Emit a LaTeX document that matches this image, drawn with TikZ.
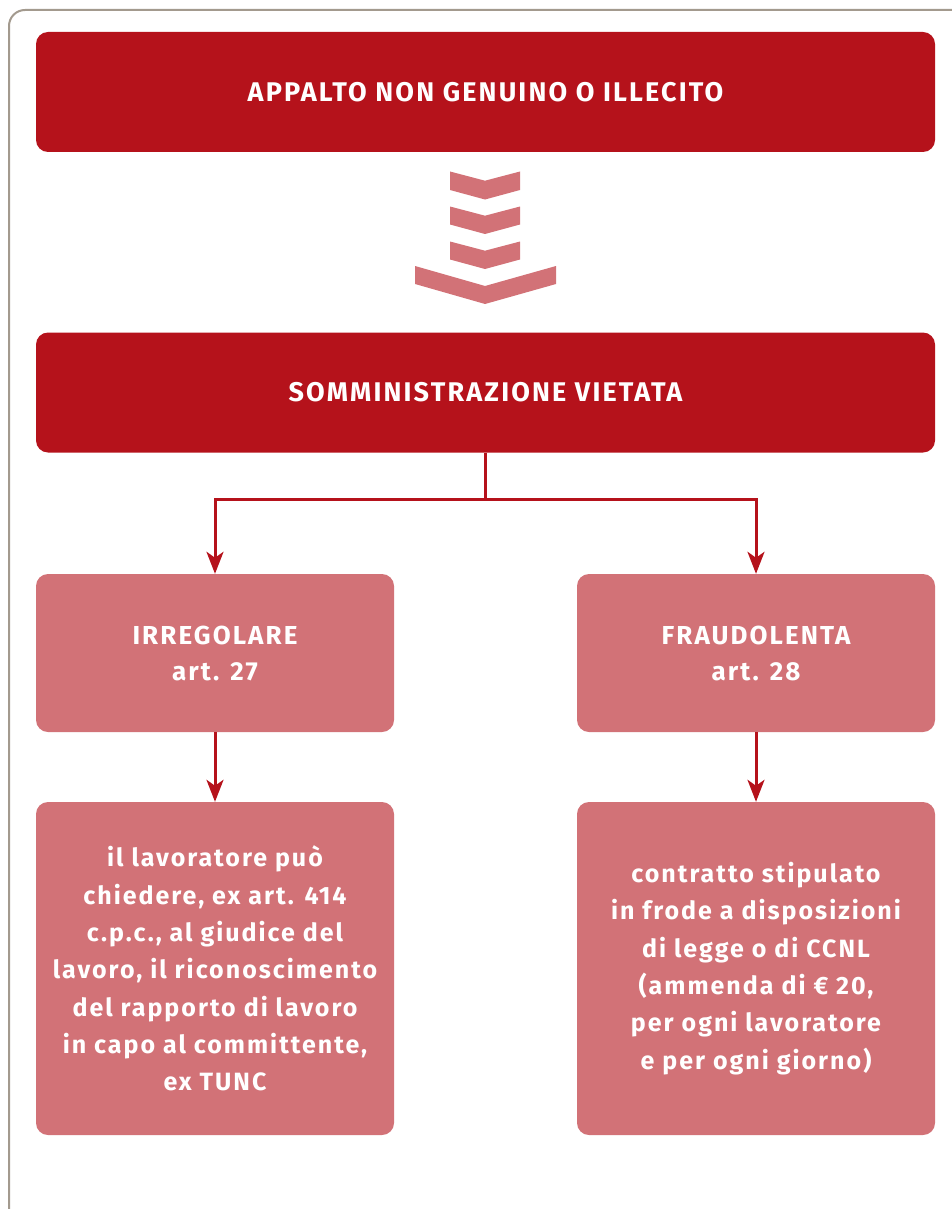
\documentclass[tikz,border=0pt]{standalone}
\usepackage{fontspec}
\setmainfont[LetterSpace=8]{Fira Sans}
\usetikzlibrary{arrows.meta}
\definecolor{dred}{RGB}{181,18,27}
\definecolor{pinkb}{RGB}{210,114,119}
\definecolor{framec}{RGB}{163,154,142}
\tikzset{
  redbox/.style={fill=dred,rounded corners=12pt,minimum width=899pt,minimum height=120pt,
    text=white,font=\fontsize{27pt}{30pt}\selectfont\bfseries,inner sep=0pt},
  pinkbox/.style={fill=pinkb,rounded corners=12pt,minimum width=358pt,
    text=white,align=center,inner sep=0pt},
  headtxt/.style={font=\fontsize{26pt}{36pt}\selectfont\bfseries},
  bodytxt/.style={font=\fontsize{25pt}{37.3pt}\selectfont\bfseries},
  conn/.style={draw=dred,line width=3pt},
  arr/.style={conn,-{Stealth[length=22pt,width=17pt,inset=6pt]}},
  chev/.style={fill=pinkb}
}
\begin{document}
\begin{tikzpicture}[x=1pt,y=-1pt]
\useasboundingbox (0,0) rectangle (951,1209);
% frame
\draw[framec,line width=2pt,rounded corners=16pt] (9,1209) -- (9,10) -- (960,10);
% top boxes
\node[redbox] (app) at (485.5,92) {\raisebox{-1pt}{APPALTO NON GENUINO O ILLECITO}};
\node[redbox] (som) at (485.5,392.5) {\raisebox{-1pt}{SOMMINISTRAZIONE VIETATA}};
% chevrons
\fill[chev] (450,171.5) -- (485,180.7) -- (520,171.5) -- (520,190) -- (485,199.5) -- (450,190) -- cycle;
\fill[chev] (450,206.5) -- (485,215.7) -- (520,206.5) -- (520,224.5) -- (485,234) -- (450,224.5) -- cycle;
\fill[chev] (450,241.5) -- (485,250.7) -- (520,241.5) -- (520,259.5) -- (485,269) -- (450,259.5) -- cycle;
\fill[chev] (415,266) -- (485,286) -- (556,266) -- (556,284) -- (485,304) -- (415,284) -- cycle;
% second level
\node[pinkbox,headtxt,minimum height=158pt] (irr) at (215,653) {IRREGOLARE\\art. 27};
\node[pinkbox,headtxt,minimum height=158pt] (fra) at (756,653) {FRAUDOLENTA\\art. 28};
% third level
\node[pinkbox,bodytxt,minimum height=333pt] (irrt) at (215,968.5) {il lavoratore può\\chiedere, ex art. 414\\c.p.c., al giudice del\\lavoro, il riconoscimento\\del rapporto di lavoro\\in capo al committente,\\ex TUNC};
\node[pinkbox,bodytxt,minimum height=333pt] (frat) at (756,968.5) {contratto stipulato\\in frode a disposizioni\\di legge o di CCNL\\(ammenda di € 20,\\per ogni lavoratore\\e per ogni giorno)};
% connectors
\path (som.south) ++(0,47) coordinate (split);
\draw[conn] (som.south) -- (split);
\draw[arr] (split) -| (irr.north);
\draw[arr] (split) -| (fra.north);
\draw[arr] (irr.south) -- (irrt.north);
\draw[arr] (fra.south) -- (frat.north);
\end{tikzpicture}
\end{document}
